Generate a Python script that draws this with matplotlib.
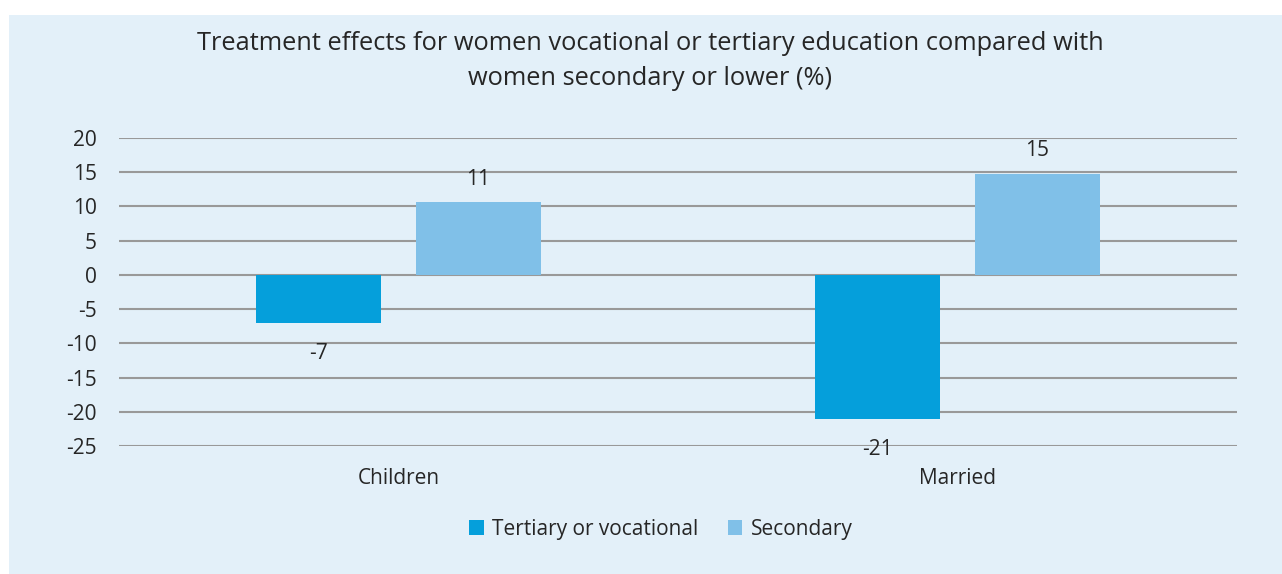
import matplotlib.pyplot as plt
import numpy as np
from matplotlib.patches import Rectangle

# data
categories = ['Children', 'Married']
tertiary = [-7.0, -21.1]
secondary = [10.6, 14.8]
tertiary_labels = ['-7', '-21']
secondary_labels = ['11', '15']
yticks = [20, 15, 10, 5, 0, -5, -10, -15, -20, -25]

plt.rcParams['font.family'] = ['Open Sans', 'DejaVu Sans']
txt = '#262626'
bg = '#e3f0f9'
c_ter = '#059fdb'
c_sec = '#80c0e8'

fig = plt.figure(figsize=(12.82, 5.74), dpi=100)
fig.patch.set_facecolor('white')
fig.patches.append(Rectangle((9 / 1282, 0), 1, 1 - 15 / 574, transform=fig.transFigure,
                             facecolor=bg, edgecolor='none', zorder=-10))

ax = fig.add_axes([119 / 1282, 1 - 446 / 574, (1237 - 119) / 1282, (446 - 138) / 574])
ax.set_facecolor('none')

x = np.arange(len(categories))
w = 0.2236
off = 0.1426
b1 = ax.bar(x - off, tertiary, w, color=c_ter, label='Tertiary or vocational', zorder=3)
b2 = ax.bar(x + off, secondary, w, color=c_sec, label='Secondary', zorder=3)

for xi, v, s in zip(x - off, tertiary, tertiary_labels):
    ax.annotate(s, (xi, v), xytext=(0, -22), textcoords='offset points',
                ha='center', va='center', fontsize=15, color=txt)
for xi, v, s in zip(x + off, secondary, secondary_labels):
    ax.annotate(s, (xi, v), xytext=(0, 16.5), textcoords='offset points',
                ha='center', va='center', fontsize=15, color=txt)

ax.set_xlim(-0.5, 1.5)
ax.set_ylim(-25, 20)
ax.set_yticks(yticks)
ax.set_yticklabels([str(t) for t in yticks])
ax.set_xticks(x)
ax.set_xticklabels(categories)
ax.yaxis.grid(True, color='#999999', linewidth=1.5, zorder=0)
ax.set_axisbelow(True)
for s in ax.spines.values():
    s.set_visible(False)
ax.tick_params(axis='y', length=0, pad=16, labelsize=15, labelcolor=txt)
ax.tick_params(axis='x', length=0, pad=16, labelsize=15, labelcolor=txt)

fig.text(650 / 1282, 1 - 61 / 574,
         'Treatment effects for women vocational or tertiary education compared with\nwomen secondary or lower (%)',
         ha='center', va='center', fontsize=18.3, color=txt, linespacing=1.5)

fig.legend(handles=[b1, b2], loc='center', bbox_to_anchor=(661 / 1282, 1 - 529 / 574),
           ncol=2, frameon=False, fontsize=15, handlelength=0.7, handleheight=0.7,
           handletextpad=0.4, columnspacing=1.4, labelcolor=txt)

fig.savefig('out.png', dpi=100, facecolor=fig.get_facecolor())
